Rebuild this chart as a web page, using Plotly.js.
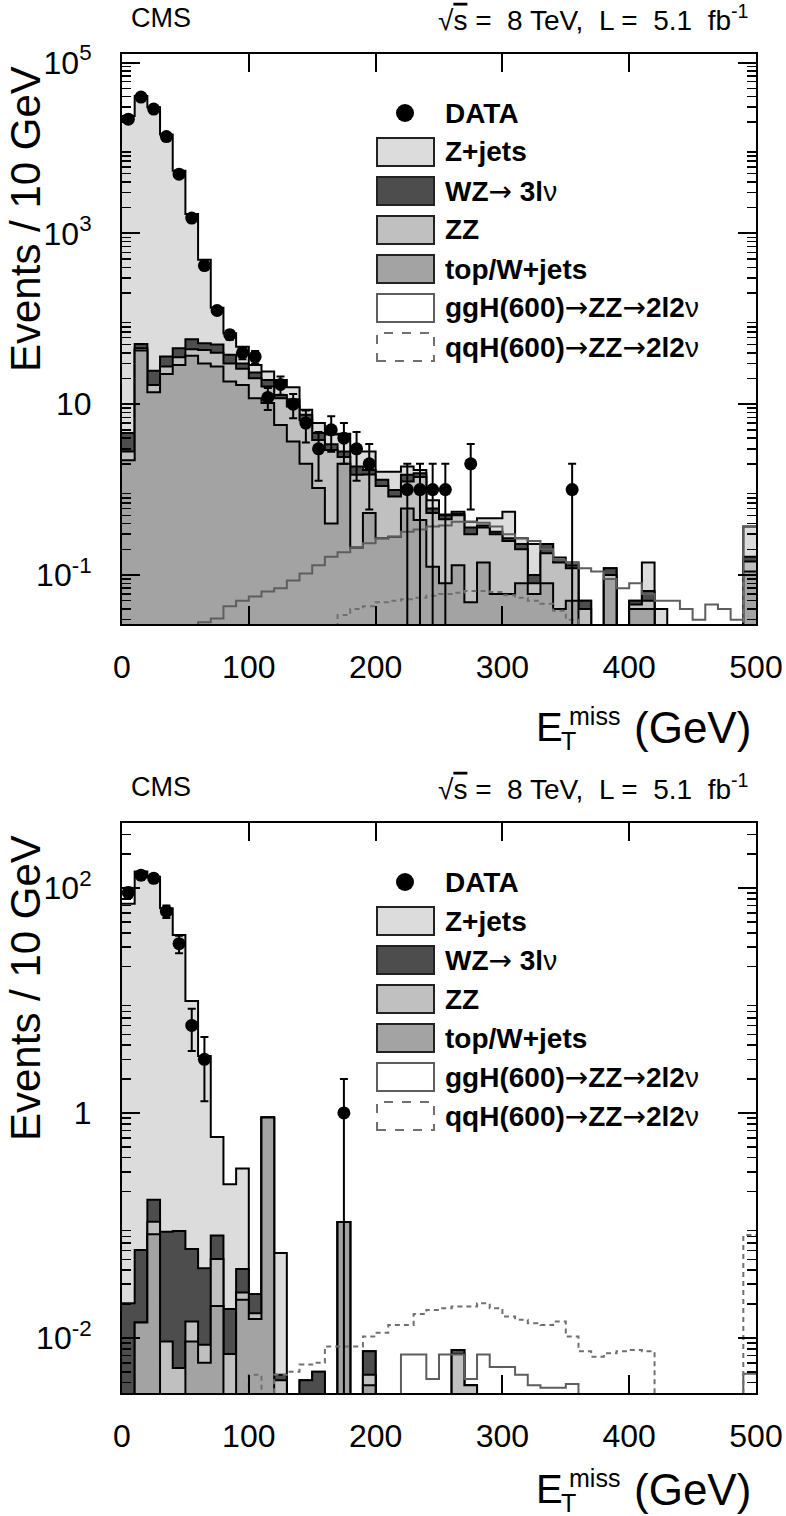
<!DOCTYPE html>
<html><head><meta charset="utf-8">
<script src="https://cdn.plot.ly/plotly-3.0.1.min.js"></script>
<style>html,body{margin:0;padding:0;background:#fff}</style>
</head><body><div id="chart" style="width:786px;height:1516px"></div>
<script>
// ---------------- DATA ----------------
const binEdges = [0,10,20,30,40,50,60,70,80,90,100,110,120,130,140,150,160,170,180,190,200,210,220,230,240,250,260,270,280,290,300,310,320,330,340,350,360,370,380,390,400,410,420,430,440,450,460,470,480,490,500];
const binCenters = [5,15,25,35,45,55,65,75,85,95,105,115,125,135,145,155,165,175,185,195,205,215,225,235,245,255,265,275,285,295,305,315,325,335,345,355,365,375,385,395,405,415,425,435,445,455,465,475,485,495];

// Top panel
const p1_data  = [21700,39400,28500,13600,4930,1510,420,125,65,40,36,12,17,10,6,3,5,4,3,2,0,0,1,1,1,1,0,2,0,0,0,0,0,0,0,1,0,0,0,0,0,0,0,0,0,0,0,0,0,0];
const p1_zjets = [23695,40450,29975,14364,5355,1632,438,85,30,17,5.3,4.9,6.4,4.4,1.1,1.4,1.0,1.7,0.94,1.1,0.32,0.63,0.37,0.15,0.15,0.01,0.03,0.06,0.08,0.14,0.28,0.04,0.13,0,0.01,0.01,0,0,0,0,0,0.075,0.04,0,0,0,0,0,0,0.206];
const p1_wz    = [1.8,5.6,7.9,8.5,9.8,13.5,8.7,10,7.8,4,3.4,3.1,1.1,2.0,1.0,0.8,0.5,0.4,0.37,0.2,0.2,0.16,0.25,0.15,0.07,0.05,0.02,0.06,0.02,0.02,0.02,0.03,0.02,0.05,0.01,0.01,0.01,0,0.02,0,0.005,0.015,0,0,0,0,0,0,0,0.02];
const p1_zz    = [0.6,2.7,3.0,5.0,6.6,7,13,12.4,11.6,9.2,8.4,5.8,6.0,5.75,4.5,2.76,2.5,0.4,1.28,0.97,0.83,0.55,0.64,0.96,0.405,0.37,0.37,0.252,0.22,0.24,0.19,0.12,0.02,0.10,0.10,0.07,0.04,0,0.01,0,0.005,0.01,0,0,0,0,0,0,0,0.034];
const p1_topw  = [2.2,42.5,13.8,22.6,28.8,37,30,27.6,18.4,16.8,11.7,10.3,5.7,3.65,2.0,1.04,0.4,2.0,0.21,0.53,0.27,0.28,0.6,0.44,0.125,0.08,0.13,0.048,0.14,0.06,0.06,0.08,0.06,0.08,0.04,0.05,0,0,0.09,0,0.04,0.04,0,0,0,0,0,0,0,0.11];
const p1_ggH   = [0,0,0,0,0,0,0.028,0.031,0.043,0.05,0.056,0.064,0.07,0.086,0.104,0.13,0.164,0.185,0.21,0.235,0.27,0.28,0.32,0.34,0.37,0.38,0.42,0.42,0.41,0.37,0.30,0.27,0.25,0.20,0.15,0.14,0.12,0.11,0.09,0.07,0.08,0.06,0.05,0.05,0.04,0.03,0.045,0.04,0.03,0.37];
const p1_qqH   = [0,0,0,0,0,0,0,0,0,0,0,0,0,0,0,0,0,0.034,0.04,0.043,0.048,0.05,0.052,0.054,0.057,0.06,0.062,0.065,0.065,0.063,0.058,0.054,0.05,0.046,0.038,0.03,0,0,0,0,0,0,0,0,0,0,0,0,0,0.1];

// Bottom panel
const p2_data  = [91,130,122,62,32,6,3,0,0,0,0,0,0,0,0,0,0,1,0,0,0,0,0,0,0,0,0,0,0,0,0,0,0,0,0,0,0,0,0,0,0,0,0,0,0,0,0,0,0,0];
const p2_zjets = [72.28,139.94,125.83,65.9,38.1,9.84,3.16,0.529,0.214,0.279,0,0,0.0523,0,0,0,0,0,0,0,0,0,0,0,0,0,0,0,0,0,0,0,0,0,0,0,0,0,0,0,0,0,0,0,0,0,0,0,0,0];
const p2_wz    = [0.0203,0.0468,0.061,0.0787,0.0836,0.0478,0.0329,0.031,0.0109,0.0157,0.008,0,0.0005,0,0.0042,0.005,0,0,0,0.0029,0,0,0,0,0,0,0.0006,0,0,0,0,0,0,0,0,0,0,0,0,0,0,0,0,0,0,0,0,0,0,0];
const p2_zz    = [0,0,0.0245,0.0093,0.0054,0.0047,0.0027,0.0311,0.0072,0.0035,0.0019,0,0.0042,0,0,0,0,0,0,0.0009,0,0,0,0,0,0,0.0072,0.0038,0,0,0,0,0,0,0,0,0,0,0,0,0,0,0,0,0,0,0,0,0,0];
const p2_topw  = [0,0.0137,0.0835,0,0,0.0093,0.006,0.0192,0,0.0218,0.0147,0.91,0,0,0,0,0,0.107,0,0.0038,0,0,0,0,0,0,0,0,0,0,0,0,0,0,0,0,0,0,0,0,0,0,0,0,0,0,0,0,0,0];
const p2_ggH   = [0,0,0,0,0,0,0,0,0,0,0,0,0,0,0,0,0,0,0,0,0,0,0.0071,0.0071,0.0043,0.0071,0.0071,0.0043,0.0071,0.0055,0.0055,0.0047,0.0038,0.0036,0.0036,0.0039,0,0,0,0,0,0,0,0,0,0,0,0,0,0.0048];
const p2_qqH   = [0,0,0,0,0,0,0,0,0,0,0.0047,0,0.0047,0.005,0.0058,0.006,0.0084,0.0084,0.0084,0.0103,0.0111,0.013,0.013,0.0163,0.0177,0.0183,0.019,0.019,0.0203,0.0183,0.0155,0.0145,0.0135,0.013,0.014,0.0103,0.0076,0.0068,0.0073,0.0076,0.0078,0.0076,0,0,0,0,0,0,0,0.082];

const xTickVals = [0,100,200,300,400,500];
const ARROW = '<span style="font-family:\'DejaVu Sans\';font-weight:normal">→</span>';
const legendLabels = ['<b>DATA</b>','<b>Z+jets</b>','<b>WZ</b>' + ARROW + ' <b>3l</b>ν','<b>ZZ</b>','<b>top/W+jets</b>',
  '<b>ggH(600)</b>' + ARROW + '<b>ZZ</b>' + ARROW + '<b>2l2</b>ν','<b>qqH(600)</b>' + ARROW + '<b>ZZ</b>' + ARROW + '<b>2l2</b>ν'];
const NB = '\u00a0';
const headerLeft = 'CMS';
const headerRight = '√<span style="text-decoration:overline">s</span> =' + NB + ' 8 TeV,' + NB + ' L =' + NB + ' 5.1' + NB + ' fb<sup>-1</sup>';
const yTitle = 'Events / 10 GeV';

// ---------------- STYLE ----------------
const W = 786, H = 1516;
const FONT = '"Liberation Sans", Arial, Helvetica, sans-serif';
const C_ZJ = '#dcdcdc', C_WZ = '#4d4d4d', C_ZZ = '#c0c0c0', C_TOP = '#a3a3a3';
const C_GGH = '#5e5e5e', C_QQH = '#707070';
const px = x => x / W;
const py = y => 1 - y / H;

function sumArrays(...arrs) { return arrs[0].map((_, i) => arrs.reduce((s, a) => s + a[i], 0)); }
function stepY(vals) { const v = vals.map(a => a > 0 ? a : 1e-7); return v.concat([v[v.length - 1]]); }

function panelTraces(P, xa, ya) {
  const cT = P.topw;
  const cZZ = sumArrays(P.topw, P.zz);
  const cWZ = sumArrays(P.topw, P.zz, P.wz);
  const cAll = sumArrays(P.topw, P.zz, P.wz, P.zjets);
  const stack = [[cAll, C_ZJ], [cWZ, C_WZ], [cZZ, C_ZZ], [cT, C_TOP]].map(([v, col]) => ({
    type: 'scatter', mode: 'lines', x: binEdges, y: stepY(v), xaxis: xa, yaxis: ya,
    line: {shape: 'hv', color: '#000', width: 2, simplify: false},
    fill: 'tozeroy', fillcolor: col, hoverinfo: 'skip'
  }));
  const ggh = {type: 'scatter', mode: 'lines', x: binEdges, y: stepY(P.ggH), xaxis: xa, yaxis: ya,
    line: {shape: 'hv', color: C_GGH, width: 2, simplify: false}, hoverinfo: 'skip'};
  const qqh = {type: 'scatter', mode: 'lines', x: binEdges, y: stepY(P.qqH), xaxis: xa, yaxis: ya,
    line: {shape: 'hv', color: C_QQH, width: 2, dash: '5px,4px', simplify: false}, hoverinfo: 'skip'};
  const dy = P.data.map(v => v > 0 ? v : null);
  const err = P.data.map(v => Math.sqrt(v));
  const data = {type: 'scatter', mode: 'markers', x: binCenters, y: dy, xaxis: xa, yaxis: ya,
    marker: {size: 13, color: '#000'},
    error_y: {type: 'data', array: err, arrayminus: err, visible: true, color: '#000', thickness: 2, width: 4},
    cliponaxis: true, hoverinfo: 'skip'};
  return [...stack, ggh, qqh, data];
}

const P1 = {data: p1_data, zjets: p1_zjets, wz: p1_wz, zz: p1_zz, topw: p1_topw, ggH: p1_ggH, qqH: p1_qqH};
const P2 = {data: p2_data, zjets: p2_zjets, wz: p2_wz, zz: p2_zz, topw: p2_topw, ggH: p2_ggH, qqH: p2_qqH};

const traces = [...panelTraces(P1, 'x', 'y'), ...panelTraces(P2, 'x2', 'y2')];

function minorVals(lo, hi) {
  const out = [];
  for (let e = lo; e <= hi; e++) for (let m = 2; m <= 9; m++) out.push(m * Math.pow(10, e));
  return out;
}

const TICKS = {ticks: 'inside', ticklen: 18, tickwidth: 2, tickcolor: '#000', showline: true, linewidth: 2, linecolor: '#000',
  mirror: 'allticks', showgrid: false, zeroline: false};

function xAxis(anchor) {
  return Object.assign({domain: [px(122), px(756)], anchor: anchor, range: [0, 500], tickmode: 'array', tickvals: xTickVals,
    ticklabelstandoff: 14, tickfont: {family: FONT, size: 32, color: '#000'}}, TICKS);
}
function yAxis(anchor, dom, range, tv, tt, mv) {
  return Object.assign({domain: dom, anchor: anchor, type: 'log', range: range, tickmode: 'array', tickvals: tv, ticktext: tt,
    ticklabelstandoff: 22,
    minor: {tickmode: 'array', tickvals: mv, ticks: 'inside', ticklen: 9, tickwidth: 1.5, tickcolor: '#000', showgrid: false},
    tickfont: {family: FONT, size: 32, color: '#000'}}, TICKS);
}
function yAxisUnlabeled(overlay, anchor, range, tv) {
  return Object.assign({overlaying: overlay, anchor: anchor, side: 'left', type: 'log', range: range, tickmode: 'array',
    tickvals: tv, showticklabels: false}, TICKS);
}

const shapes = [], annotations = [];
function addPanelDecor(off, titleOff) {
  const rowY = [113, 152, 191, 230, 269, 308, 347].map(v => v + off);
  shapes.push({type: 'circle', xref: 'paper', yref: 'paper', x0: px(396), x1: px(414), y0: py(rowY[0] + 9), y1: py(rowY[0] - 9),
    fillcolor: '#000', line: {width: 0}});
  const boxStyles = [[C_ZJ, '#222', 'solid'], [C_WZ, '#222', 'solid'], [C_ZZ, '#222', 'solid'], [C_TOP, '#222', 'solid'],
    ['#fff', C_GGH, 'solid'], ['#fff', C_QQH, 'dash']];
  boxStyles.forEach(([f, l, d], i) => {
    const yc = rowY[i + 1];
    shapes.push({type: 'rect', xref: 'paper', yref: 'paper', x0: px(377), x1: px(434), y0: py(yc + 14), y1: py(yc - 14),
      fillcolor: f, line: {color: l, width: 2, dash: d}});
  });
  legendLabels.forEach((t, i) => {
    annotations.push({xref: 'paper', yref: 'paper', x: px(443), y: py(rowY[i]), xanchor: 'left', yanchor: 'middle',
      text: t, showarrow: false, font: {family: FONT, size: 28, color: '#000'}});
  });
  annotations.push({xref: 'paper', yref: 'paper', x: px(129), y: py(18 + off), xanchor: 'left', yanchor: 'middle',
    text: headerLeft, showarrow: false, font: {family: FONT, size: 27, color: '#000'}});
  annotations.push({xref: 'paper', yref: 'paper', x: px(750), y: py(18 + off), xanchor: 'right', yanchor: 'middle',
    text: headerRight, showarrow: false, font: {family: FONT, size: 28, color: '#000'}});
  annotations.push({xref: 'paper', yref: 'paper', x: px(25), y: py(219 + off), xanchor: 'center', yanchor: 'middle',
    text: yTitle, textangle: -90, showarrow: false, font: {family: FONT, size: 42, color: '#000'}});
  const t = titleOff;
  annotations.push({xref: 'paper', yref: 'paper', x: px(534), y: py(727 + t), xanchor: 'left', yanchor: 'middle',
    text: 'E', showarrow: false, font: {family: FONT, size: 40, color: '#000'}});
  annotations.push({xref: 'paper', yref: 'paper', x: px(567), y: py(716 + t), xanchor: 'left', yanchor: 'middle',
    text: 'miss', showarrow: false, font: {family: FONT, size: 25, color: '#000'}});
  annotations.push({xref: 'paper', yref: 'paper', x: px(559), y: py(741 + t), xanchor: 'left', yanchor: 'middle',
    text: 'T', showarrow: false, font: {family: FONT, size: 25, color: '#000'}});
  annotations.push({xref: 'paper', yref: 'paper', x: px(753), y: py(727 + t), xanchor: 'right', yanchor: 'middle',
    text: '(GeV)', showarrow: false, font: {family: FONT, size: 44, color: '#000'}});
}
addPanelDecor(0, 0);
addPanelDecor(769, 762);

const R1 = [-1.574, 5.10], R2 = [-2.49, 2.578];
const layout = {
  width: W, height: H, margin: {l: 0, r: 0, t: 0, b: 0}, paper_bgcolor: '#fff', plot_bgcolor: '#fff',
  showlegend: false, font: {family: FONT, color: '#000'},
  xaxis: xAxis('y'),
  yaxis: yAxis('x', [py(624), py(54)], R1, [0.1, 10, 1000, 100000],
    ['10<sup>-1</sup>', '10', '10<sup>3</sup>', '10<sup>5</sup>'], minorVals(-2, 4)),
  yaxis3: yAxisUnlabeled('y', 'x', R1, [1, 100, 10000]),
  xaxis2: xAxis('y2'),
  yaxis2: yAxis('x2', [py(1393), py(823)], R2, [0.01, 1, 100],
    ['10<sup>-2</sup>', '1', '10<sup>2</sup>'], minorVals(-3, 2)),
  yaxis4: yAxisUnlabeled('y2', 'x2', R2, [0.1, 10]),
  shapes: shapes, annotations: annotations
};

Plotly.newPlot('chart', traces, layout, {staticPlot: true, displayModeBar: false});
</script>
</body></html>
